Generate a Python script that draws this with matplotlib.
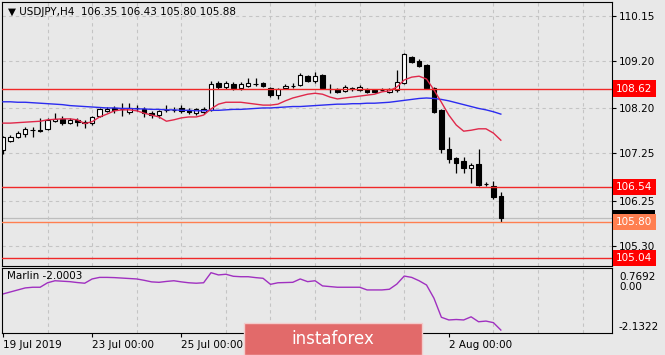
import matplotlib
matplotlib.use("Agg")
import matplotlib.pyplot as plt
from matplotlib.patches import Rectangle
import numpy as np

# USDJPY H4, 19 Jul 2019 .. 5 Aug 2019, six bars per trading day
opens = [107.32, 107.51, 107.60, 107.66, 107.74, 107.74, 107.77, 107.93, 107.98, 107.89,
         107.95, 107.91, 107.89, 108.04, 108.15, 108.21, 108.19, 108.12, 108.21, 108.19,
         108.10, 108.06, 108.17, 108.17, 108.21, 108.17, 108.10, 108.12, 108.17, 108.74,
         108.65, 108.72, 108.63, 108.67, 108.72, 108.74, 108.63, 108.48, 108.63, 108.67,
         108.69, 108.88, 108.78, 108.91, 108.61, 108.61, 108.57, 108.63, 108.59, 108.61,
         108.59, 108.59, 108.55, 108.59, 108.74, 109.28, 109.20, 109.12, 108.63, 108.17,
         107.34, 107.15, 107.09, 106.94, 107.03, 106.61, 106.56, 106.35]
highs = [107.62, 107.63, 107.72, 107.81, 107.81, 108.00, 108.00, 108.10, 108.04, 107.99,
         108.00, 107.96, 108.04, 108.21, 108.23, 108.25, 108.31, 108.31, 108.27, 108.23,
         108.15, 108.17, 108.27, 108.23, 108.27, 108.21, 108.21, 108.23, 108.78, 108.78,
         108.78, 108.76, 108.76, 108.84, 108.84, 108.76, 108.65, 108.63, 108.72, 108.74,
         108.95, 108.91, 108.97, 108.93, 108.72, 108.63, 108.69, 108.65, 108.69, 108.63,
         108.61, 108.63, 108.63, 109.01, 109.37, 109.31, 109.24, 109.14, 108.65, 108.19,
         107.60, 107.18, 107.18, 107.05, 107.34, 106.65, 106.67, 106.43]
lows = [107.24, 107.49, 107.57, 107.60, 107.60, 107.70, 107.74, 107.91, 107.85, 107.87,
        107.83, 107.79, 107.85, 108.02, 108.13, 108.10, 108.04, 108.08, 108.15, 108.02,
        108.00, 108.00, 108.13, 108.12, 108.10, 108.08, 108.06, 108.08, 108.15, 108.61,
        108.61, 108.59, 108.59, 108.65, 108.67, 108.65, 108.44, 108.40, 108.61, 108.63,
        108.67, 108.76, 108.74, 108.61, 108.52, 108.52, 108.55, 108.57, 108.57, 108.52,
        108.52, 108.57, 108.52, 108.55, 108.72, 109.16, 109.08, 108.61, 108.10, 107.26,
        107.05, 106.84, 106.84, 106.63, 106.56, 106.56, 106.29, 105.80]
closes = [107.60, 107.60, 107.68, 107.77, 107.75, 107.72, 107.96, 107.98, 107.89, 107.96,
          107.91, 107.89, 108.02, 108.19, 108.19, 108.17, 108.19, 108.21, 108.21, 108.10,
          108.06, 108.15, 108.17, 108.17, 108.15, 108.12, 108.19, 108.19, 108.72, 108.65,
          108.74, 108.63, 108.72, 108.74, 108.72, 108.67, 108.48, 108.61, 108.67, 108.67,
          108.91, 108.78, 108.88, 108.63, 108.61, 108.55, 108.65, 108.61, 108.65, 108.55,
          108.55, 108.59, 108.61, 108.76, 109.35, 109.18, 109.10, 108.63, 108.12, 107.34,
          107.13, 107.05, 106.94, 107.01, 106.58, 106.61, 106.33, 105.88]

ma_fast = [107.89, 107.89, 107.90, 107.91, 107.92, 107.93, 107.96, 107.97, 107.98, 107.98,
           107.96, 107.88, 107.92, 108.02, 108.08, 108.15, 108.17, 108.17, 108.15, 108.10,
           108.06, 108.02, 107.93, 107.96, 108.00, 108.02, 108.02, 108.06, 108.19, 108.29,
           108.33, 108.33, 108.33, 108.31, 108.29, 108.27, 108.27, 108.29, 108.36, 108.42,
           108.46, 108.50, 108.52, 108.50, 108.44, 108.40, 108.42, 108.44, 108.46, 108.48,
           108.50, 108.55, 108.57, 108.65, 108.80, 108.86, 108.88, 108.82, 108.59, 108.33,
           108.06, 107.85, 107.72, 107.74, 107.77, 107.77, 107.68, 107.53]
ma_slow = [108.34, 108.34, 108.33, 108.33, 108.32, 108.31, 108.30, 108.29, 108.28, 108.26,
           108.25, 108.24, 108.23, 108.22, 108.21, 108.21, 108.20, 108.20, 108.19, 108.19,
           108.18, 108.18, 108.17, 108.17, 108.16, 108.16, 108.15, 108.15, 108.16, 108.16,
           108.17, 108.18, 108.18, 108.19, 108.20, 108.21, 108.21, 108.22, 108.23, 108.24,
           108.24, 108.25, 108.26, 108.27, 108.28, 108.29, 108.29, 108.30, 108.30, 108.31,
           108.31, 108.32, 108.33, 108.35, 108.37, 108.39, 108.41, 108.42, 108.41, 108.39,
           108.36, 108.32, 108.28, 108.24, 108.20, 108.17, 108.13, 108.08]
marlin = [-0.39, -0.30, -0.21, -0.12, -0.09, -0.09, 0.11, 0.20, 0.18, 0.16,
          0.12, 0.09, 0.28, 0.35, 0.35, 0.34, 0.32, 0.30, 0.28, 0.22,
          0.15, 0.13, 0.17, 0.20, 0.15, 0.11, 0.09, 0.11, 0.56, 0.46,
          0.49, 0.40, 0.38, 0.38, 0.34, 0.31, 0.04, 0.11, 0.12, 0.13,
          0.28, 0.16, 0.20, -0.03, -0.06, -0.09, -0.09, -0.09, -0.09, -0.21,
          -0.21, -0.21, -0.18, 0.05, 0.41, 0.35, 0.20, 0.01, -0.58, -1.43,
          -1.55, -1.53, -1.55, -1.41, -1.63, -1.60, -1.67, -2.00]

levels = [108.62, 106.54, 105.04]
support = 105.80
last_price = 105.88
price_ticks = [110.15, 109.20, 108.20, 107.25, 106.25, 105.30]
marlin_max = 0.7692
marlin_min = -2.1322
# 29 Jul / 31 Jul labels sit under the watermark in the original, so only these show
date_bars = [0, 12, 24, 60]
date_labels = ["19 Jul 2019", "23 Jul 00:00", "25 Jul 00:00", "2 Aug 00:00"]

bg = "#E8E8E8"
grid_c = "#C4C4C4"
fs = 7.5

fig = plt.figure(figsize=(6.65, 3.55), dpi=100, facecolor=bg)
ax = fig.add_axes([2 / 665, 89 / 355, 610 / 665, 264 / 355], facecolor=bg)
ax2 = fig.add_axes([2 / 665, 22 / 355, 610 / 665, 65 / 355], facecolor=bg)

x = np.arange(len(opens))
o = np.array(opens)
c = np.array(closes)
up = c >= o

# grid (one vertical line per day)
for a in (ax, ax2):
    a.set_xlim(-0.13, 81.96)
    a.set_xticks(np.arange(6, 82, 6), minor=True)
    a.grid(True, which="minor", axis="x", color=grid_c, lw=0.8, ls=(0, (3, 3)))
    for s in a.spines.values():
        s.set_color("black")
        s.set_linewidth(0.8)

ax.set_ylim(104.876, 110.445)
ax.set_yticks(price_ticks)
ax.set_yticklabels(["%.2f" % t for t in price_ticks])
ax.yaxis.tick_right()
ax.grid(True, which="major", axis="y", color=grid_c, lw=0.8, ls=(0, (3, 3)))
ax.tick_params(axis="y", length=3, pad=2, labelsize=fs, colors="black")
ax.tick_params(axis="x", which="both", length=0, labelbottom=False)

# candles
ax.vlines(x, lows, highs, color="black", lw=0.9, zorder=2)
ax.bar(x, np.abs(c - o), bottom=np.minimum(o, c), width=0.6,
       color=np.where(up, "white", "black"), edgecolor="black", lw=0.8, zorder=2.5)

# moving averages
ax.plot(x, ma_slow, color="#2B2BF0", lw=1.0, zorder=3)
ax.plot(x, ma_fast, color="#E0284A", lw=1.0, zorder=3)

# levels
ax.axhline(last_price, color="#BDBDBD", lw=0.9, zorder=1.5)
for lv in levels:
    ax.axhline(lv, color="#F02828", lw=1.0, zorder=3)
ax.axhline(support, color="#FF7F50", lw=1.0, zorder=3)

def price_box(val, fc, z):
    ax.annotate("%.2f" % val, xy=(1, val), xycoords=("axes fraction", "data"),
                xytext=(3, 0), textcoords="offset points", ha="left", va="center",
                color="white", fontsize=fs, annotation_clip=False, zorder=z,
                bbox=dict(boxstyle="square,pad=0.3", fc=fc, ec="none"))

# current price marker, mostly hidden behind the 105.80 box
ax.add_patch(Rectangle((1.0015, last_price - 0.02), 0.069, 0.2,
                       transform=ax.get_yaxis_transform(), fc="black", ec="none",
                       clip_on=False, zorder=5))
price_box(support, "#FF7F50", 6)
for lv in levels:
    price_box(lv, "#FF0000", 6)

fig.text(8 / 665, 1 - 12 / 355, "▼ USDJPY,H4  106.35 106.43 105.80 105.88",
         fontsize=fs, va="center", ha="left")

# Marlin panel
ax2.plot(x, marlin, color="#A030C0", lw=1.0)
ax2.set_ylim(marlin_min, marlin_max)
ax2.set_yticks([])
ax2.set_xticks(date_bars)
ax2.set_xticklabels(date_labels, ha="left")
ax2.tick_params(axis="x", which="major", length=3, pad=2, labelsize=fs)
ax2.tick_params(axis="x", which="minor", length=0)
ax2.text(5 / 610, 1 - 8 / 65, "Marlin -2.0003", transform=ax2.transAxes,
         fontsize=fs, va="center", ha="left")
for val, dy in ((marlin_max, -6.8), (0.0, -1.0), (marlin_min, 4.6)):
    txt = "%.4f" % val if val != 0 else "0.00"
    ax2.annotate(txt, xy=(1, val), xycoords=("axes fraction", "data"),
                 xytext=(5, dy), textcoords="offset points", ha="left", va="center",
                 fontsize=fs, annotation_clip=False)

# watermark
fig.patches.append(Rectangle((244 / 665, 0), 178 / 665, 32 / 355, transform=fig.transFigure,
                             fc="#E26A6A", ec="#F3CCCC", lw=1.0, zorder=10))
fig.text(333 / 665, 1 - 339 / 355, "instaforex", color="white", fontsize=12,
         ha="center", va="center", zorder=11)

fig.savefig("out.png", dpi=100, facecolor=bg)
